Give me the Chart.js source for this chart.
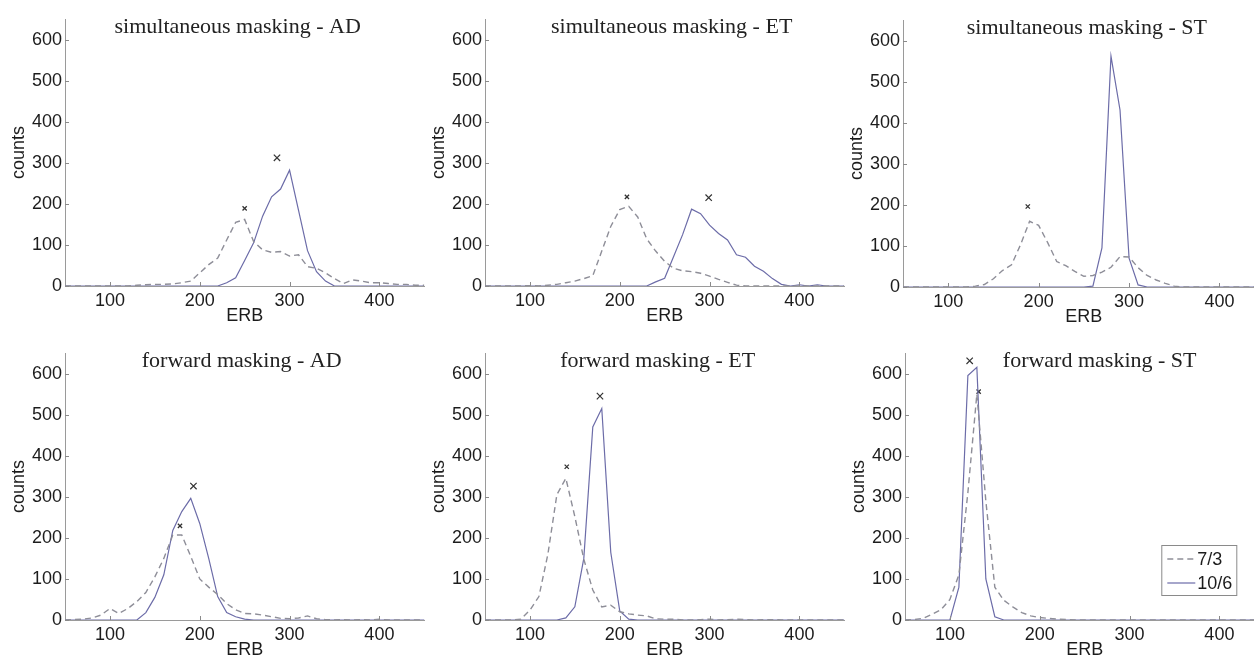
<!DOCTYPE html>
<html>
<head>
<meta charset="utf-8">
<script src="https://cdn.jsdelivr.net/npm/chart.js@4.4.1/dist/chart.umd.min.js"></script>
<style>
  html, body { margin: 0; padding: 0; background: #fff; overflow: hidden; }
  body { width: 1254px; height: 660px; position: relative; }
  canvas { position: absolute; }
</style>
</head>
<body>
<canvas id="p1" width="430" height="330" style="left:0px;top:0px"></canvas>
<canvas id="p2" width="430" height="330" style="left:420px;top:0px"></canvas>
<canvas id="p3" width="432" height="330" style="left:838px;top:1px"></canvas>
<canvas id="p4" width="430" height="330" style="left:0px;top:334px"></canvas>
<canvas id="p5" width="430" height="330" style="left:420px;top:334px"></canvas>
<canvas id="p6" width="430" height="330" style="left:840px;top:334px"></canvas>
<script>
// ERB bins (x values shared by every panel)
const erb = [50, 60, 70, 80, 90, 100, 110, 120, 130, 140, 150, 160, 170, 180, 190, 200, 210, 220, 230, 240,
             250, 260, 270, 280, 290, 300, 310, 320, 330, 340, 350, 360, 370, 380, 390, 400, 410, 420, 430, 440, 450];

const xTickValues = [100, 200, 300, 400];
const yTickValues = [0, 100, 200, 300, 400, 500, 600];

const panelTitles = [
    'simultaneous masking - AD', 'simultaneous masking - ET', 'simultaneous masking - ST',
    'forward masking - AD', 'forward masking - ET', 'forward masking - ST'
];
const seriesLabels = ['7/3', '10/6'];

// counts, 7/3 condition (dashed)
const simAD73 = [0, 0, 0, 0, 0, 0, 0, 0, 2, 3, 4, 4, 5, 8, 12, 32, 52, 68, 112, 155,
                 162, 108, 88, 82, 84, 73, 76, 47, 43, 32, 18, 6, 15, 12, 8, 8, 6, 4, 4, 2, 2];
const simET73 = [0, 0, 0, 0, 0, 1, 0, 2, 4, 8, 12, 18, 25, 85, 145, 186, 194, 168, 115, 85,
                 60, 43, 37, 35, 31, 24, 16, 9, 2, 0, 0, 0, 0, 0, 0, 0, 0, 0, 0, 0, 0];
const simST73 = [0, 0, 0, 0, 0, 0, 0, 0, 2, 6, 20, 40, 54, 103, 160, 150, 108, 62, 52, 38,
                 26, 28, 36, 48, 74, 73, 47, 28, 17, 9, 2, 0, 0, 0, 0, 0, 0, 0, 0, 0, 0];
const fwdAD73 = [0, 1, 2, 5, 12, 28, 16, 28, 45, 67, 105, 150, 207, 207, 155, 100, 80, 62, 40, 25,
                 16, 15, 12, 8, 4, 3, 5, 10, 3, 1, 0, 1, 0, 1, 0, 2, 0, 0, 0, 0, 0];
const fwdET73 = [0, 0, 0, 0, 2, 24, 57, 160, 305, 345, 252, 148, 73, 32, 36, 20, 15, 12, 10, 3,
                 2, 2, 0, 0, 1, 2, 0, 1, 2, 1, 0, 1, 1, 0, 0, 0, 0, 0, 0, 0, 0];
const fwdST73 = [0, 1, 4, 14, 25, 50, 110, 310, 550, 290, 80, 48, 32, 18, 10, 6, 4, 2, 1, 0,
                 0, 0, 0, 0, 0, 0, 0, 0, 0, 0, 0, 0, 0, 0, 0, 0, 0, 0, 0, 0, 0];

// counts, 10/6 condition (solid)
const simAD106 = [0, 0, 0, 0, 0, 0, 0, 0, 0, 0, 0, 0, 0, 0, 0, 0, 0, 0, 8, 20,
                  62, 105, 170, 217, 236, 282, 184, 86, 35, 12, 0, 0, 0, 0, 0, 0, 0, 0, 0, 0, 0];
const simET106 = [0, 0, 0, 0, 0, 0, 0, 0, 0, 0, 0, 0, 0, 0, 0, 0, 0, 0, 0, 10,
                  19, 72, 125, 187, 176, 148, 128, 112, 76, 70, 48, 36, 18, 4, 0, 3, 0, 3, 0, 0, 0];
const simST106 = [0, 0, 0, 0, 0, 0, 0, 0, 0, 0, 0, 0, 0, 0, 0, 0, 0, 0, 0, 0,
                  0, 2, 95, 562, 431, 70, 5, 0, 0, 0, 0, 0, 0, 0, 0, 0, 0, 0, 0, 0, 0];
const fwdAD106 = [0, 0, 0, 0, 0, 0, 0, 0, 0, 18, 55, 110, 218, 264, 296, 235, 150, 57, 18, 8,
                  2, 0, 0, 0, 0, 0, 0, 0, 0, 0, 0, 0, 0, 0, 0, 0, 0, 0, 0, 0, 0];
const fwdET106 = [0, 0, 0, 0, 0, 0, 0, 0, 0, 5, 32, 150, 470, 515, 165, 22, 2, 0, 0, 0,
                  0, 0, 0, 0, 0, 0, 0, 0, 0, 0, 0, 0, 0, 0, 0, 0, 0, 0, 0, 0, 0];
const fwdST106 = [0, 0, 0, 0, 0, 0, 80, 595, 615, 100, 8, 0, 0, 0, 0, 0, 0, 0, 0, 0,
                  0, 0, 0, 0, 0, 0, 0, 0, 0, 0, 0, 0, 0, 0, 0, 0, 0, 0, 0, 0, 0];

// "x" peak markers per panel
const peak73X = [250, 208, 188, 178, 141, 132];
const peak73Y = [189, 217, 196, 229, 373, 556];
const peak106X = [286, 299, null, 193, 178, 122];
const peak106Y = [312, 215, null, 326, 545, 631];

const dashedSeries = [simAD73, simET73, simST73, fwdAD73, fwdET73, fwdST73];
const solidSeries = [simAD106, simET106, simST106, fwdAD106, fwdET106, fwdST106];

const dashColor = '#8e8e98';
const solidColor = '#6c6ca8';
const markColor = '#333333';
const textColor = '#1c1c1c';
const sansFont = '"Liberation Sans", Arial, sans-serif';

// panel title drawn inside the plot, like the original figure
const panelTitlePlugin = {
    id: 'panelTitle',
    afterDraw(chart, args, opts) {
        const { ctx, chartArea } = chart;
        ctx.save();
        ctx.font = '22px "Liberation Serif", "Times New Roman", serif';
        ctx.fillStyle = '#222';
        ctx.textAlign = 'center';
        ctx.textBaseline = 'alphabetic';
        ctx.fillText(opts.text, (chartArea.left + chartArea.right) / 2 + opts.shift, chartArea.top + 14);
        ctx.restore();
    }
};

// small inward tick marks (matlab style)
const innerTicksPlugin = {
    id: 'innerTicks',
    afterDatasetsDraw(chart) {
        const { ctx, chartArea, scales } = chart;
        ctx.save();
        ctx.strokeStyle = '#8a8a8a';
        ctx.lineWidth = 1;
        ctx.beginPath();
        xTickValues.forEach(v => {
            const px = Math.round(scales.x.getPixelForValue(v)) + 0.5;
            ctx.moveTo(px, chartArea.bottom);
            ctx.lineTo(px, chartArea.bottom - 4);
        });
        yTickValues.forEach(v => {
            const py = Math.round(scales.y.getPixelForValue(v)) + 0.5;
            ctx.moveTo(chartArea.left, py);
            ctx.lineTo(chartArea.left + 4, py);
        });
        ctx.stroke();
        ctx.restore();
    }
};

// boxed legend in the lower right of the last panel
const boxLegendPlugin = {
    id: 'boxLegend',
    afterDraw(chart) {
        const { ctx, chartArea } = chart;
        const w = 75, h = 50;
        const x0 = chartArea.right - 28 - w;
        const y0 = chartArea.bottom - 25 - h;
        ctx.save();
        ctx.fillStyle = '#ffffff';
        ctx.fillRect(x0, y0, w, h);
        ctx.strokeStyle = '#8a8a8a';
        ctx.lineWidth = 1;
        ctx.strokeRect(x0 + 0.5, y0 + 0.5, w, h);
        chart.data.datasets.slice(0, 2).forEach((ds, i) => {
            const y = y0 + 14 + i * 24;
            ctx.strokeStyle = ds.borderColor;
            ctx.lineWidth = ds.borderWidth;
            ctx.setLineDash(ds.borderDash || []);
            ctx.beginPath();
            ctx.moveTo(x0 + 6, y);
            ctx.lineTo(x0 + 34, y);
            ctx.stroke();
            ctx.setLineDash([]);
            ctx.fillStyle = textColor;
            ctx.font = '18px ' + sansFont;
            ctx.textAlign = 'left';
            ctx.textBaseline = 'middle';
            ctx.fillText(ds.label, x0 + 36, y + 1);
        });
        ctx.restore();
    }
};

const titleShift = [-7, 7, 3, -3, -7, 15];

function toPoints(ys) {
    return ys.map((v, i) => ({ x: erb[i], y: v }));
}

function makePanel(index) {
    const canvas = document.getElementById('p' + (index + 1));
    const marks73 = peak73X[index] === null ? [] : [{ x: peak73X[index], y: peak73Y[index] }];
    const marks106 = peak106X[index] === null ? [] : [{ x: peak106X[index], y: peak106Y[index] }];

    const plugins = [innerTicksPlugin, panelTitlePlugin];
    if (index === 5) plugins.push(boxLegendPlugin);

    new Chart(canvas, {
        type: 'line',
        data: {
            datasets: [
                {
                    label: seriesLabels[0],
                    data: toPoints(dashedSeries[index]),
                    borderColor: dashColor,
                    borderWidth: 1.4,
                    borderDash: [6, 4],
                    pointRadius: 0,
                    tension: 0
                },
                {
                    label: seriesLabels[1],
                    data: toPoints(solidSeries[index]),
                    borderColor: solidColor,
                    borderWidth: 1.2,
                    pointRadius: 0,
                    tension: 0
                },
                {
                    label: 'peak 7/3',
                    data: marks73,
                    showLine: false,
                    pointStyle: 'crossRot',
                    pointRadius: 3,
                    borderColor: markColor,
                    borderWidth: 1.3
                },
                {
                    label: 'peak 10/6',
                    data: marks106,
                    showLine: false,
                    pointStyle: 'crossRot',
                    pointRadius: 4.5,
                    borderColor: markColor,
                    borderWidth: 1.2
                }
            ]
        },
        options: {
            responsive: false,
            animation: false,
            events: [],
            layout: { padding: { left: 8, top: 19, right: 5, bottom: 3 } },
            plugins: {
                legend: { display: false },
                tooltip: { enabled: false },
                panelTitle: { text: panelTitles[index], shift: titleShift[index] }
            },
            scales: {
                x: {
                    type: 'linear',
                    min: 50,
                    max: 450,
                    afterBuildTicks: (scale) => { scale.ticks = xTickValues.map(v => ({ value: v })); },
                    afterFit: (scale) => { scale.height = 41; },
                    grid: { display: false, drawTicks: false },
                    border: { display: true, color: '#9a9a9a', width: 1 },
                    ticks: { padding: 4, color: textColor, font: { family: sansFont, size: 18 } },
                    title: { display: true, text: 'ERB', color: textColor, padding: 0, font: { family: sansFont, size: 18 } }
                },
                y: {
                    min: 0,
                    max: 650,
                    afterBuildTicks: (scale) => { scale.ticks = yTickValues.map(v => ({ value: v })); },
                    afterFit: (scale) => { scale.width = 57; },
                    grid: { display: false, drawTicks: false },
                    border: { display: true, color: '#9a9a9a', width: 1 },
                    ticks: { padding: 3, color: textColor, font: { family: sansFont, size: 18 } },
                    title: { display: true, text: 'counts', color: textColor, padding: 0, font: { family: sansFont, size: 18 } }
                }
            }
        },
        plugins: plugins
    });
}

for (let i = 0; i < 6; i++) {
    makePanel(i);
}
</script>
</body>
</html>
